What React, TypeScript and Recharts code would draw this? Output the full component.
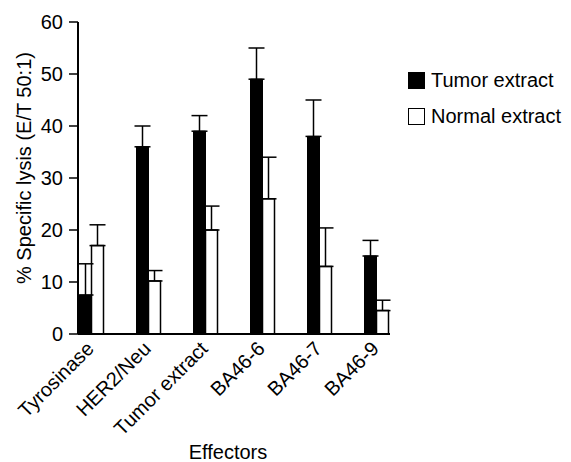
import React from "react";
import { Bar, BarChart, ErrorBar, Label, XAxis, YAxis } from "recharts";

const effectors = ["Tyrosinase", "HER2/Neu", "Tumor extract", "BA46-6", "BA46-7", "BA46-9"];
const tumorLysis = [7.5, 36, 39, 49, 38, 15];
const tumorErr = [6, 4, 3, 6, 7, 3];
const normalLysis = [17, 10.2, 20, 26, 13, 4.5];
const normalErr = [4, 2, 4.6, 8, 7.4, 2];
const yTicks = [0, 10, 20, 30, 40, 50, 60];

const FONT = "'Liberation Sans', Arial, Helvetica, sans-serif";

const data = effectors.map((name, i) => ({
  name,
  tumor: tumorLysis[i],
  tumorErr: [0, tumorErr[i]],
  normal: normalLysis[i],
  normalErr: [0, normalErr[i]],
}));

function SlantTick(props: any) {
  const { x, y, payload } = props;
  const ax = x + 4;
  const ay = y + 8;
  return (
    <text
      x={ax}
      y={ay}
      transform={`rotate(-45, ${ax}, ${ay})`}
      textAnchor="end"
      fontSize={20}
      fontFamily={FONT}
      fill="#000"
    >
      {payload.value}
    </text>
  );
}

function KeyBox({ filled, label }: { filled: boolean; label: string }) {
  return (
    <div style={{ display: "flex", alignItems: "center", height: 36 }}>
      <div
        style={{
          width: 15,
          height: 15,
          border: "1.5px solid #000",
          background: filled ? "#000" : "#fff",
          marginRight: 6,
        }}
      />
      <span style={{ fontSize: 20, fontFamily: FONT, color: "#000" }}>{label}</span>
    </div>
  );
}

export default function App() {
  return (
    <div style={{ position: "absolute", left: 0, top: 0, width: 571, height: 462, background: "#fff" }}>
      <BarChart
        width={571}
        height={462}
        data={data}
        margin={{ top: 22, right: 181, left: 18, bottom: 28 }}
        barGap={0}
        barSize={12}
      >
        <XAxis
          dataKey="name"
          height={100}
          interval={0}
          padding={{ left: -15.5, right: -14.5 }}
          tickLine={false}
          axisLine={{ stroke: "#000", strokeWidth: 2 }}
          tick={<SlantTick />}
        >
          <Label
            value="Effectors"
            content={() => (
              <text x={228} y={459} textAnchor="middle" fontSize={20} fontFamily={FONT} fill="#000">
                Effectors
              </text>
            )}
          />
        </XAxis>
        <YAxis
          width={60}
          domain={[0, 60]}
          ticks={yTicks}
          interval={0}
          tickSize={9}
          tickMargin={6}
          axisLine={{ stroke: "#000", strokeWidth: 2 }}
          tickLine={{ stroke: "#000", strokeWidth: 1.5 }}
          tick={{ fontSize: 20, fontFamily: FONT, fill: "#000" }}
        >
          <Label
            value="% Specific lysis (E/T 50:1)"
            content={() => (
              <text
                x={31}
                y={168}
                transform="rotate(-90, 31, 168)"
                textAnchor="middle"
                fontSize={20}
                fontFamily={FONT}
                fill="#000"
              >
                % Specific lysis (E/T 50:1)
              </text>
            )}
          />
        </YAxis>
        <Bar dataKey="tumor" fill="#000" stroke="#000" strokeWidth={1} isAnimationActive={false}>
          <ErrorBar dataKey="tumorErr" width={8} stroke="#000" strokeWidth={1.5} direction="y" />
        </Bar>
        <Bar dataKey="normal" fill="#fff" stroke="#000" strokeWidth={1.5} isAnimationActive={false}>
          <ErrorBar dataKey="normalErr" width={8} stroke="#000" strokeWidth={1.5} direction="y" />
        </Bar>
      </BarChart>
      <div style={{ position: "absolute", left: 408, top: 62 }}>
        <KeyBox filled label="Tumor extract" />
        <KeyBox filled={false} label="Normal extract" />
      </div>
    </div>
  );
}
